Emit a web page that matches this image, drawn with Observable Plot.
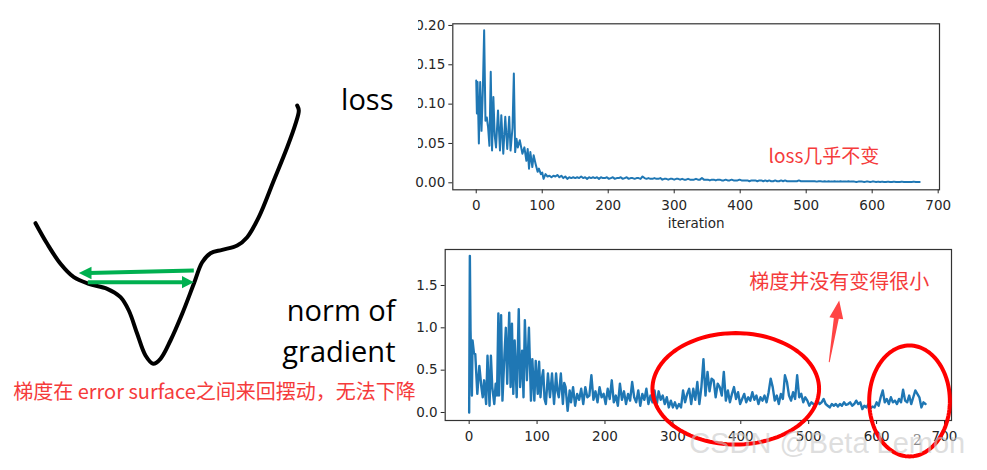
<!DOCTYPE html>
<html><head><meta charset="utf-8">
<script src="https://cdn.jsdelivr.net/npm/d3@7"></script>
<script src="https://cdn.jsdelivr.net/npm/@observablehq/plot@0.6"></script>
<style>
html,body{margin:0;padding:0;background:#fff;}
#stage{position:relative;width:987px;height:470px;overflow:hidden;background:#fff;}
.layer{position:absolute;}
</style></head><body><div id="stage"></div>
<script>
// ---------- data ----------
const xTicks = [0, 100, 200, 300, 400, 500, 600, 700];
const lossTicks = [0, 0.05, 0.10, 0.15, 0.20];
const gradTicks = [0, 0.5, 1.0, 1.5];

// loss: early part (irregular iterations), then every 3 iterations
const lossEarlyIter = [0,1,2,4,6,8,10,12,14,16,18,20,22,24,26,28,30,33,36,38,41,44,47,50,52,55,57,59,61,63,66,70,73,76,78,80,82,85,87,90,93,95,98,100,102,105,108,111,114,117];
const lossEarlyVal = [0.130,0.088,0.128,0.050,0.128,0.066,0.117,0.194,0.079,0.083,0.070,0.047,0.141,0.041,0.109,0.060,0.045,0.092,0.041,0.086,0.037,0.084,0.043,0.084,0.041,0.070,0.139,0.039,0.056,0.045,0.054,0.037,0.045,0.028,0.043,0.018,0.039,0.020,0.035,0.024,0.014,0.018,0.011,0.013,0.005,0.011,0.008,0.009,0.007,0.009];
const lossLateStart = 120, lossLateStep = 3;
const lossLateVal = [
0.008,0.010,0.007,0.009,0.006,0.008,0.005,0.007,0.006,0.007,
0.006,0.007,0.006,0.008,0.006,0.007,0.005,0.007,0.006,0.007,
0.006,0.007,0.005,0.007,0.006,0.006,0.007,0.005,0.006,0.007,
0.005,0.006,0.006,0.007,0.005,0.006,0.007,0.005,0.006,0.006,
0.005,0.006,0.006,0.005,0.008,0.006,0.005,0.006,0.005,0.005,
0.006,0.005,0.005,0.006,0.004,0.005,0.005,0.004,0.005,0.005,
0.004,0.005,0.005,0.004,0.005,0.004,0.004,0.005,0.004,0.004,
0.004,0.005,0.004,0.004,0.006,0.004,0.004,0.004,0.003,0.004,
0.004,0.003,0.004,0.004,0.003,0.003,0.004,0.003,0.003,0.004,
0.003,0.003,0.003,0.004,0.003,0.003,0.003,0.003,0.002,0.003,
0.003,0.003,0.002,0.003,0.003,0.002,0.003,0.002,0.003,0.002,
0.002,0.003,0.002,0.002,0.003,0.002,0.003,0.002,0.002,0.002,
0.002,0.002,0.002,0.003,0.002,0.002,0.002,0.002,0.002,0.002,
0.002,0.002,0.0015,0.002,0.002,0.0015,0.002,0.0015,0.002,0.0015,
0.0015,0.002,0.0015,0.0015,0.002,0.0015,0.0015,0.0015,0.002,0.0015,
0.0015,0.0015,0.001,0.0015,0.0015,0.0015,0.001,0.0015,0.0015,0.001,
0.0015,0.0015,0.001,0.0015,0.001,0.0015,0.001,0.001,0.0015,0.001,
0.001,0.0015,0.001,0.001,0.001,0.0015,0.001,0.001,0.001,0.001,
0.001,0.0015,0.001,0.001,0.001];

// gradient norm: early part (irregular iterations), then every 3 iterations
const gradEarlyIter = [0,1,2,4,5,7,9,12,15,18,20,22,25,27,30,32,34,37,39,41,43,44,47,49,52,54,56,59,61,63,65,67,70,73,75,78,80,82,85,88,91,93,96,98,101,103,105,107,109,111,113,116,119,122,125,128,130,132,135,138,140,142,145,148];
const gradEarlyNorm = [0.00,1.85,0.97,0.20,0.85,0.70,0.69,0.22,0.55,0.30,0.18,0.38,0.10,0.67,0.08,0.67,0.30,0.10,0.34,0.20,1.17,0.20,1.15,0.14,0.69,1.00,0.34,1.18,0.30,1.05,0.22,0.85,0.18,1.22,0.30,0.73,0.18,1.09,0.38,1.00,0.14,0.63,0.14,0.61,0.22,0.60,0.18,0.40,0.50,0.16,0.10,0.46,0.18,0.46,0.10,0.46,0.25,0.18,0.46,0.10,0.35,0.30,0.02,0.26];
const gradLateStart = 150, gradLateStep = 3;
const gradLateNorm = [
0.12,0.30,0.08,0.22,0.15,0.28,0.10,0.30,0.18,0.20,
0.44,0.15,0.25,0.12,0.30,0.18,0.22,0.10,0.28,0.16,
0.38,0.12,0.20,0.08,0.34,0.15,0.25,0.10,0.22,0.14,
0.36,0.18,0.12,0.26,0.08,0.22,0.15,0.28,0.10,0.20,
0.12,0.26,0.08,0.25,0.15,0.20,0.10,0.18,0.06,0.14,
0.06,0.12,0.05,0.10,0.06,0.26,0.12,0.22,0.28,0.10,
0.28,0.15,0.36,0.10,0.30,0.63,0.20,0.48,0.25,0.40,
0.38,0.18,0.34,0.30,0.20,0.48,0.14,0.26,0.12,0.22,
0.30,0.16,0.24,0.10,0.16,0.22,0.12,0.18,0.14,0.24,
0.15,0.20,0.10,0.18,0.14,0.20,0.12,0.24,0.40,0.30,
0.14,0.20,0.10,0.22,0.16,0.44,0.36,0.20,0.14,0.24,
0.16,0.44,0.18,0.22,0.12,0.18,0.14,0.08,0.12,0.10,
0.08,0.14,0.10,0.12,0.16,0.10,0.08,0.06,0.10,0.08,
0.10,0.07,0.10,0.08,0.12,0.09,0.10,0.12,0.08,0.10,
0.14,0.10,0.12,0.04,0.08,0.06,0.10,0.05,0.07,0.06,
0.12,0.08,0.18,0.26,0.12,0.16,0.10,0.18,0.12,0.14,
0.10,0.16,0.12,0.27,0.14,0.12,0.20,0.10,0.18,0.26,
0.22,0.18,0.06,0.12,0.10];

// error-surface sketch (illustration units)
const surfaceX = [35,46.7,60,73.3,88.3,106.7,120,128.3,136.7,145,152.7,160,170,181.7,193.3,201.7,210,221.7,236.7,246.7,258.3,273.3,286.7,295,298.3,296.7];
const surfaceY = [222.7,243.3,263.3,276.7,283.3,288.3,296.7,310,333.3,355,363.3,358.3,340,313.3,283.3,261.7,252.7,249.3,245,236.7,216.7,180,146.7,123.3,110,105];

// ---------- annotations ----------
const lossNote = {text: "loss几乎不变", iteration: 443, value: 0.0325};
const gradNote = {text: "梯度并没有变得很小", iteration: 545, value: 1.54};
const ellipses = [{cx: 392.6, cy: 0.28, rx: 122.7, ry: 0.658}, {cx: 648.5, cy: 0.136, rx: 59.4, ry: 0.655}];
const redArrowIter = [529.5, 537.0, 530.5, 544.9, 550.8, 544.3, 530.9];
const redArrowNorm = [0.595, 1.117, 1.126, 1.323, 1.100, 1.108, 0.593];
const greenShafts = [{x1: 193.3, y1: 270, x2: 88, y2: 272.4}, {x1: 87.3, y1: 281.7, x2: 184, y2: 281.7}];
const greenHeads = [
  {id: 0, x: 78.3, y: 272.5}, {id: 0, x: 91, y: 266.3}, {id: 0, x: 91, y: 278.7},
  {id: 1, x: 193.3, y: 281.7}, {id: 1, x: 181.5, y: 275.6}, {id: 1, x: 181.5, y: 287.8}
];

// ---------- build tables ----------
const lossData = lossEarlyIter.map((it, i) => ({iteration: it, loss: lossEarlyVal[i]}))
  .concat(lossLateVal.map((v, i) => ({iteration: lossLateStart + i * lossLateStep, loss: v})));
const gradData = gradEarlyIter.map((it, i) => ({iteration: it, norm: gradEarlyNorm[i]}))
  .concat(gradLateNorm.map((v, i) => ({iteration: gradLateStart + i * gradLateStep, norm: v})));
const surface = surfaceX.map((x, i) => ({x, y: surfaceY[i]}));
const ellipsePts = ellipses.flatMap((e, k) => d3.range(0, 361, 3).map(a => ({
  k, x: e.cx + e.rx * Math.cos(a * Math.PI / 180), y: e.cy + e.ry * Math.sin(a * Math.PI / 180)})));
const redArrow = redArrowIter.map((x, i) => ({x, y: redArrowNorm[i]}));

const blue = "#1f77b4", red = "#f53b3b";
const axisStyle = {background: "transparent", overflow: "visible", fontFamily: "DejaVu Sans", fontSize: "13.5px", color: "#262626", maxWidth: "none"};

const stage = document.getElementById("stage");
function place(el, left, top) {
  const d = document.createElement("div");
  d.className = "layer"; d.style.left = left + "px"; d.style.top = top + "px";
  d.appendChild(el); stage.appendChild(d);
}

// ---------- loss chart ----------
const lossPlot = Plot.plot({
  width: 587, height: 240,
  marginLeft: 52.3, marginRight: 48, marginTop: 23.3, marginBottom: 50.7,
  style: axisStyle,
  x: {domain: [-35.5, 702], ticks: xTicks, tickFormat: d => String(d), tickSize: 4, tickPadding: 7, label: null},
  y: {domain: [-0.0089, 0.2021], ticks: lossTicks, tickFormat: d3.format(".2f"), tickSize: 4, tickPadding: 3.5, label: null},
  marks: [
    Plot.frame({stroke: "#333", strokeWidth: 1.2}),
    Plot.line(lossData, {x: "iteration", y: "loss", stroke: blue, strokeWidth: 2}),
    Plot.text(["iteration"], {frameAnchor: "bottom", lineAnchor: "middle", dy: 34, text: d => d, fontSize: 13.5, fill: "#262626"}),
    Plot.text([lossNote], {x: "iteration", y: "value", text: "text", textAnchor: "start", lineAnchor: "middle", fontFamily: "Noto Sans CJK SC", fontSize: 19, fill: red})
  ]
});
place(lossPlot, 400, 0);

// ---------- gradient-norm chart ----------
const gradPlot = Plot.plot({
  width: 587, height: 230,
  marginLeft: 44.7, marginRight: 36, marginTop: 9, marginBottom: 50,
  style: axisStyle,
  x: {domain: [-35.3, 710.3], ticks: xTicks, tickFormat: d => String(d), tickSize: 4, tickPadding: 7, label: null},
  y: {domain: [-0.0945, 1.925], ticks: gradTicks, tickFormat: d3.format(".1f"), tickSize: 4, tickPadding: 3.5, label: null},
  marks: [
    Plot.frame({stroke: "#333", strokeWidth: 1.2}),
    Plot.line(gradData, {x: "iteration", y: "norm", stroke: blue, strokeWidth: 2.4}),
    Plot.line(ellipsePts, {x: "x", y: "y", z: "k", stroke: "#ff0000", strokeWidth: 4}),
    Plot.line(redArrow, {x: "x", y: "y", fill: "#ff4545", stroke: "none"}),
    Plot.text([gradNote], {x: "iteration", y: "value", text: "text", textAnchor: "middle", lineAnchor: "middle", fontFamily: "Noto Sans CJK SC", fontSize: 20, fill: red}),
    Plot.text(["2"], {x: 660, y: -0.33, text: d => d, fontFamily: "DejaVu Serif", fontSize: 14, fill: "#888"}),
    Plot.text(["CSDN @Beta Lemon"], {x: 324, y: -0.37, text: d => d, textAnchor: "start", fontFamily: "Liberation Sans", fontSize: 29, fill: "#c8c8c8", fillOpacity: 0.6})
  ]
});
place(gradPlot, 400, 240);

// ---------- error-surface illustration ----------
const sketch = Plot.plot({
  width: 420, height: 470, margin: 0,
  style: {background: "transparent", overflow: "visible", maxWidth: "none"},
  x: {domain: [0, 420], axis: null},
  y: {domain: [470, 0], axis: null},
  marks: [
    Plot.rect([0], {x1: 0, x2: 418, y1: 0, y2: 165, fill: "white"}),
    Plot.line(surface, {x: "x", y: "y", curve: "catmull-rom", stroke: "black", strokeWidth: 4, strokeLinecap: "round"}),
    Plot.link(greenShafts, {x1: "x1", y1: "y1", x2: "x2", y2: "y2", stroke: "#00b050", strokeWidth: 4}),
    Plot.line(greenHeads, {x: "x", y: "y", z: "id", fill: "#00b050", stroke: "none"}),
    Plot.text(["loss"], {x: 393, y: 109.3, text: d => d, textAnchor: "end", lineAnchor: "bottom", fontFamily: "Open Sans", fontSize: 29, fill: "black"}),
    Plot.text(["norm of"], {x: 395, y: 320.7, text: d => d, textAnchor: "end", lineAnchor: "bottom", fontFamily: "Open Sans", fontSize: 29, fill: "black"}),
    Plot.text(["gradient"], {x: 395, y: 361.7, text: d => d, textAnchor: "end", lineAnchor: "bottom", fontFamily: "Open Sans", fontSize: 29, fill: "black"}),
    Plot.text(["梯度在 error surface之间来回摆动，无法下降"], {x: 12.7, y: 392.5, text: d => d, textAnchor: "start", lineAnchor: "middle", fontFamily: "Noto Sans CJK SC", fontSize: 20, fill: red})
  ]
});
place(sketch, 0, 0);
</script></body></html>
